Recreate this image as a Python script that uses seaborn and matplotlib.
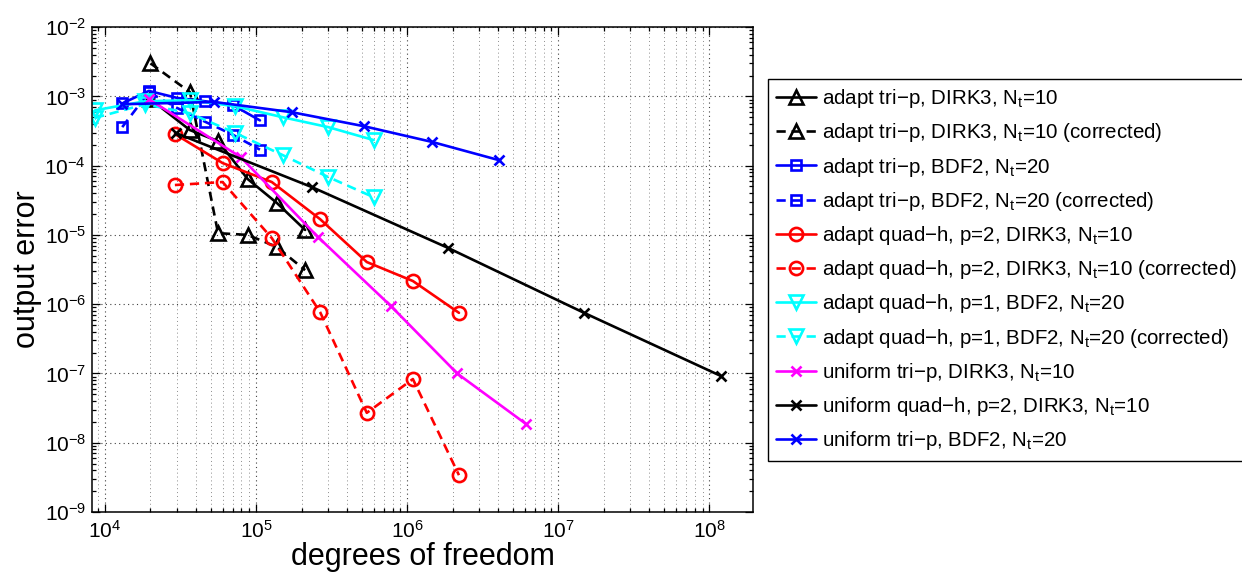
import numpy as np
import pandas as pd
import matplotlib
matplotlib.use("Agg")
import matplotlib.pyplot as plt
import matplotlib.ticker as mticker
import seaborn as sns

# ---------------- data ----------------
tri_dirk3_x = [2.0e4, 3.65e4, 5.6e4, 8.8e4, 1.37e5, 2.11e5]
tri_dirk3_y = [9.1e-4, 3.26e-4, 2.26e-4, 6.4e-5, 2.9e-5, 1.18e-5]
tri_dirk3c_x = [2.0e4, 3.65e4, 5.6e4, 8.8e4, 1.37e5, 2.11e5]
tri_dirk3c_y = [3.0e-3, 1.15e-3, 1.06e-5, 1.0e-5, 6.7e-6, 3.1e-6]

tri_bdf2_x = [1.3e4, 1.95e4, 3.0e4, 4.6e4, 7.0e4, 1.06e5]
tri_bdf2_y = [7.9e-4, 1.2e-3, 9.5e-4, 8.5e-4, 7.5e-4, 4.5e-4]
tri_bdf2c_x = [1.3e4, 1.95e4, 3.0e4, 4.6e4, 7.0e4, 1.06e5]
tri_bdf2c_y = [3.6e-4, 1.15e-3, 6.8e-4, 4.3e-4, 2.8e-4, 1.7e-4]

quad2_x = [2.9e4, 6.0e4, 1.27e5, 2.65e5, 5.4e5, 1.09e6, 2.2e6]
quad2_y = [2.86e-4, 1.09e-4, 5.8e-5, 1.69e-5, 4.06e-6, 2.16e-6, 7.5e-7]
quad2c_x = [2.9e4, 6.0e4, 1.27e5, 2.65e5, 5.4e5, 1.09e6, 2.2e6]
quad2c_y = [5.25e-5, 5.8e-5, 9.0e-6, 7.7e-7, 2.7e-8, 8.3e-8, 3.4e-9]

quad1_x = [8.6e3, 1.84e4, 3.65e4, 7.3e4, 1.5e5, 3.0e5, 6.0e5]
quad1_y = [6.3e-4, 8.5e-4, 8.8e-4, 7.2e-4, 5.0e-4, 3.6e-4, 2.34e-4]
quad1c_x = [8.6e3, 1.84e4, 3.65e4, 7.3e4, 1.5e5, 3.0e5, 6.0e5]
quad1c_y = [4.9e-4, 7.7e-4, 5.7e-4, 2.95e-4, 1.42e-4, 6.85e-5, 3.5e-5]

uni_tri_dirk3_x = [1.95e4, 7.9e4, 2.57e5, 7.8e5, 2.14e6, 6.1e6]
uni_tri_dirk3_y = [9.1e-4, 1.33e-4, 9.3e-6, 9.4e-7, 1.0e-7, 1.87e-8]

uni_quad_dirk3_x = [2.95e4, 2.34e5, 1.86e6, 1.48e7, 1.19e8]
uni_quad_dirk3_y = [2.95e-4, 4.9e-5, 6.5e-6, 7.5e-7, 9.2e-8]

uni_tri_bdf2_x = [1.3e4, 5.3e4, 1.73e5, 5.2e5, 1.46e6, 4.05e6]
uni_tri_bdf2_y = [7.7e-4, 8.3e-4, 5.9e-4, 3.7e-4, 2.2e-4, 1.2e-4]

M = "\u2212"
labels = [
    f"adapt tri{M}p, DIRK3, N$_t$=10",
    f"adapt tri{M}p, DIRK3, N$_t$=10 (corrected)",
    f"adapt tri{M}p, BDF2, N$_t$=20",
    f"adapt tri{M}p, BDF2, N$_t$=20 (corrected)",
    f"adapt quad{M}h, p=2, DIRK3, N$_t$=10",
    f"adapt quad{M}h, p=2, DIRK3, N$_t$=10 (corrected)",
    f"adapt quad{M}h, p=1, BDF2, N$_t$=20",
    f"adapt quad{M}h, p=1, BDF2, N$_t$=20 (corrected)",
    f"uniform tri{M}p, DIRK3, N$_t$=10",
    f"uniform quad{M}h, p=2, DIRK3, N$_t$=10",
    f"uniform tri{M}p, BDF2, N$_t$=20",
]

series = [
    (tri_dirk3_x, tri_dirk3_y, "#000000", "^", "-", 10),
    (tri_dirk3c_x, tri_dirk3c_y, "#000000", "^", "--", 10),
    (tri_bdf2_x, tri_bdf2_y, "#0000FF", "s", "-", 7.5),
    (tri_bdf2c_x, tri_bdf2c_y, "#0000FF", "s", "--", 7.5),
    (quad2_x, quad2_y, "#FF0000", "o", "-", 9.5),
    (quad2c_x, quad2c_y, "#FF0000", "o", "--", 9.5),
    (quad1_x, quad1_y, "#00FFFF", "v", "-", 10),
    (quad1c_x, quad1c_y, "#00FFFF", "v", "--", 10),
    (uni_tri_dirk3_x, uni_tri_dirk3_y, "#FF00FF", "x", "-", 6.5),
    (uni_quad_dirk3_x, uni_quad_dirk3_y, "#000000", "x", "-", 6.5),
    (uni_tri_bdf2_x, uni_tri_bdf2_y, "#0000FF", "x", "-", 6.5),
]

# ---------------- style ----------------
sns.set_style("ticks")
plt.rcParams["font.family"] = ["Liberation Sans", "DejaVu Sans"]
plt.rcParams["mathtext.fontset"] = "custom"
plt.rcParams["mathtext.rm"] = "Liberation Sans"
plt.rcParams["mathtext.it"] = "Liberation Sans"
plt.rcParams["mathtext.default"] = "regular"
plt.rcParams["axes.unicode_minus"] = True
for key in ["text.color", "axes.labelcolor", "xtick.color", "ytick.color",
            "xtick.labelcolor", "ytick.labelcolor"]:
    plt.rcParams[key] = "black"

fig = plt.figure(figsize=(12.42, 5.77), dpi=100)
ax = fig.add_axes([0.0738, 0.1127, 0.6065 - 0.0738, 0.953 - 0.1127])

for (xs, ys, col, mk, ls, ms), lab in zip(series, labels):
    df = pd.DataFrame({"dof": xs, "err": ys})
    lstyle = (0, (3.5, 2.2)) if ls == "--" else "-"
    sns.lineplot(data=df, x="dof", y="err", ax=ax, sort=False, estimator=None,
                 color=col, marker=mk, linestyle=lstyle, linewidth=1.9,
                 markersize=ms, markerfacecolor="none", markeredgecolor=col,
                 markeredgewidth=1.9, label=lab)

ax.set_xscale("log")
ax.set_yscale("log")
ax.set_xlim(8.16e3, 1.95e8)
ax.set_ylim(1e-9, 1e-2)

ax.xaxis.set_major_locator(mticker.LogLocator(base=10, numticks=20))
ax.xaxis.set_minor_locator(mticker.LogLocator(base=10, subs=np.arange(2, 10), numticks=100))
ax.yaxis.set_major_locator(mticker.LogLocator(base=10, numticks=20))
ax.yaxis.set_minor_locator(mticker.LogLocator(base=10, subs=np.arange(2, 10), numticks=100))
ax.yaxis.set_minor_formatter(mticker.NullFormatter())
ax.xaxis.set_minor_formatter(mticker.NullFormatter())

ax.grid(True, which="major", axis="both", linestyle=(0, (1, 3)), color="0.25", linewidth=0.8)
ax.grid(True, which="minor", axis="x", linestyle=(0, (1, 3)), color="0.55", linewidth=0.7)

ax.tick_params(which="both", direction="in", top=True, right=True, labelsize=15, width=0.9,
               colors="black")
ax.tick_params(which="major", length=6)
ax.tick_params(which="minor", length=3)
ax.tick_params(axis="x", which="major", pad=6)
ax.tick_params(axis="y", which="major", pad=4)
for sp in ax.spines.values():
    sp.set_visible(True)
    sp.set_linewidth(1.1)
    sp.set_color("black")

ax.set_xlabel("degrees of freedom", fontsize=22, labelpad=0, color="black")
ax.set_ylabel("output error", fontsize=22, labelpad=2, color="black")

handles, labs = ax.get_legend_handles_labels()
ax.get_legend().remove()
leg = fig.legend(handles, labs, loc="upper left", bbox_to_anchor=(0.6185, 0.863),
                 frameon=True, fancybox=False, framealpha=1, edgecolor="black",
                 fontsize=14.8, handlelength=1.95, handletextpad=0.25,
                 labelspacing=0.545, borderpad=0.4, borderaxespad=0,
                 labelcolor="black")
leg.get_frame().set_linewidth(1.0)

fig.savefig("out.png", dpi=100)
